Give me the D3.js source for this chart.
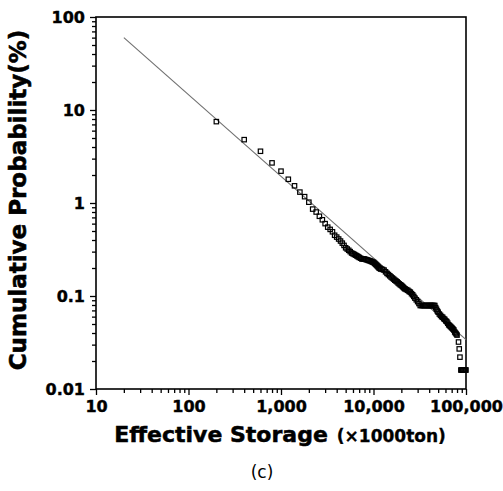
<!DOCTYPE html>
<html>
<head>
<meta charset="utf-8">
<script src="https://cdn.jsdelivr.net/npm/d3@7"></script>
<style>
  html, body { margin: 0; padding: 0; background: #fff; }
  svg { display: block; }
  text { font-family: "DejaVu Sans", Verdana, sans-serif; }
</style>
</head>
<body>
<svg id="chart" width="503" height="491"></svg>
<script>
// ---- data ----
const storage = [200,400,600,800,1000,1200,1400,1600,1800,2000,2200,2400,
  2600,2800,3000,3200,3400,3600,3800,4000,4200,4400,4600,4800,5000,
  5200,5400,5600,5800,6000,6200,6400,6600,6800,7000,7250,
  7500,7750,8000,8250,8500,8750,9000,9250,9500,9750,10000,
  10250,10500,10750,11000,11250,11500,11750,12000,12500,
  13000,13500,14000,14500,15000,15500,16000,16500,17000,17500,
  18000,18500,19000,19500,20000,20500,21000,21500,22000,22750,
  23500,24250,25000,25750,26500,27250,28000,29000,
  30000,31000,32000,33000,34000,35000,36000,37000,38000,39000,40000,
  41000,42000,43000,44000,45000,46000,47000,48000,49000,50000,
  51500,53000,54500,56000,57500,59000,60500,62000,63500,65000,
  66500,68000,69500,71000,72500,74000,75500,77000,78500,80000,
  83000,84500,86000,
  88000,90000,92000,94000,96000,98000,100000];
const probability = [7.5,4.8,3.6,2.7,2.2,1.8,1.53,1.31,1.17,1.02,0.86,0.80,
  0.72,0.66,0.60,0.55,0.52,0.49,0.45,0.43,0.41,0.39,0.37,0.35,0.33,
  0.32,0.31,0.30,0.29,0.285,0.28,0.275,0.27,0.265,0.26,0.255,
  0.25,0.25,0.25,0.247,0.245,0.242,0.24,0.238,0.235,0.232,0.23,
  0.225,0.22,0.215,0.21,0.205,0.20,0.198,0.195,0.193,
  0.19,0.182,0.175,0.17,0.165,0.16,0.156,0.152,0.148,0.145,
  0.142,0.138,0.135,0.132,0.13,0.127,0.124,0.121,0.119,0.117,
  0.115,0.112,0.11,0.106,0.103,0.099,0.095,0.091,
  0.087,0.083,0.079,0.079,0.079,0.079,0.079,0.079,0.079,0.079,0.079,
  0.079,0.079,0.079,0.079,0.079,0.079,0.075,0.072,0.069,0.067,
  0.064,0.062,0.060,0.059,0.057,0.056,0.054,0.053,0.051,0.049,
  0.048,0.047,0.046,0.045,0.044,0.043,0.041,0.040,0.039,0.038,
  0.032,0.027,0.022,
  0.016,0.016,0.016,0.016,0.016,0.016,0.016];
const fitX = [20, 100000];
const fitY = [60, 0.034];
const xTickLabels = [10, 100, 1000, 10000, 100000];
const yTickLabels = [0.01, 0.1, 1, 10, 100];
const xTitle = "Effective Storage";
const xUnit = "(\u00d71000ton)";
const yTitle = "Cumulative Probability(%)";
const caption = "(c)";

// ---- layout ----
const L = 96, R = 466, T = 17, B = 389;
const svg = d3.select("#chart");
const x = d3.scaleLog().domain([10, 100000]).range([L, R]);
const y = d3.scaleLog().domain([0.01, 100]).range([B, T]);

const allX = x.ticks();
const allY = y.ticks();
const isMajor = (arr, d) => arr.some(v => Math.abs(v - d) / v < 1e-6);
const fmtX = d => d3.format(",")(d);
const fmtY = d => d >= 1 ? d3.format(",")(d) : String(d);

// x axis
const gx = svg.append("g").attr("transform", `translate(0,${B})`)
  .call(d3.axisBottom(x).tickValues(allX).tickSize(6).tickPadding(6)
    .tickFormat(d => isMajor(xTickLabels, d) ? fmtX(d) : ""));
gx.selectAll(".tick line").attr("y2", d => isMajor(xTickLabels, d) ? 6 : 4)
  .attr("stroke", "#000").attr("stroke-width", 1.3);
gx.select(".domain").remove();
gx.selectAll("text").attr("font-size", 16).attr("font-weight", "bold")
  .attr("fill", "#000").attr("stroke", "#000").attr("stroke-width", 0.4)
  .style("font-family", '"DejaVu Sans", Verdana, sans-serif');

// y axis
const gy = svg.append("g").attr("transform", `translate(${L},0)`)
  .call(d3.axisLeft(y).tickValues(allY).tickSize(6).tickPadding(5)
    .tickFormat(d => isMajor(yTickLabels, d) ? fmtY(d) : ""));
gy.selectAll(".tick line").attr("x2", d => isMajor(yTickLabels, d) ? -6 : -4)
  .attr("stroke", "#000").attr("stroke-width", 1.3);
gy.select(".domain").remove();
gy.selectAll("text").attr("font-size", 16).attr("font-weight", "bold")
  .attr("fill", "#000").attr("stroke", "#000").attr("stroke-width", 0.4)
  .style("font-family", '"DejaVu Sans", Verdana, sans-serif');

// frame
svg.append("rect").attr("x", L).attr("y", T).attr("width", R - L).attr("height", B - T)
  .attr("fill", "none").attr("stroke", "#000").attr("stroke-width", 1.6);

// fitted line
svg.append("line")
  .attr("x1", x(fitX[0])).attr("y1", y(fitY[0]))
  .attr("x2", x(fitX[1])).attr("y2", y(fitY[1]))
  .attr("stroke", "#6f6f6f").attr("stroke-width", 1.1);

// data markers
svg.append("g").selectAll("rect").data(storage.map((s, i) => [s, probability[i]]))
  .join("rect")
  .attr("x", d => x(d[0]) - 2.2).attr("y", d => y(d[1]) - 2.2)
  .attr("width", 4.4).attr("height", 4.4)
  .attr("fill", "none").attr("stroke", "#000").attr("stroke-width", 1.2);

// titles
const xt = svg.append("text").attr("x", 280).attr("y", 442)
  .attr("text-anchor", "middle").attr("font-weight", "bold")
  .attr("stroke", "#000").attr("stroke-width", 0.5);
xt.append("tspan").attr("font-size", 22).text(xTitle);
xt.append("tspan").attr("font-size", 17).attr("dx", 9).attr("stroke-width", 0.3).text(xUnit);

svg.append("text").attr("transform", "translate(26,200) rotate(-90)")
  .attr("text-anchor", "middle").attr("font-weight", "bold")
  .attr("stroke", "#000").attr("stroke-width", 0.6)
  .attr("font-size", 23).text(yTitle);

svg.append("text").attr("x", 262).attr("y", 478).attr("text-anchor", "middle")
  .attr("font-size", 17).text(caption);
</script>
</body>
</html>
